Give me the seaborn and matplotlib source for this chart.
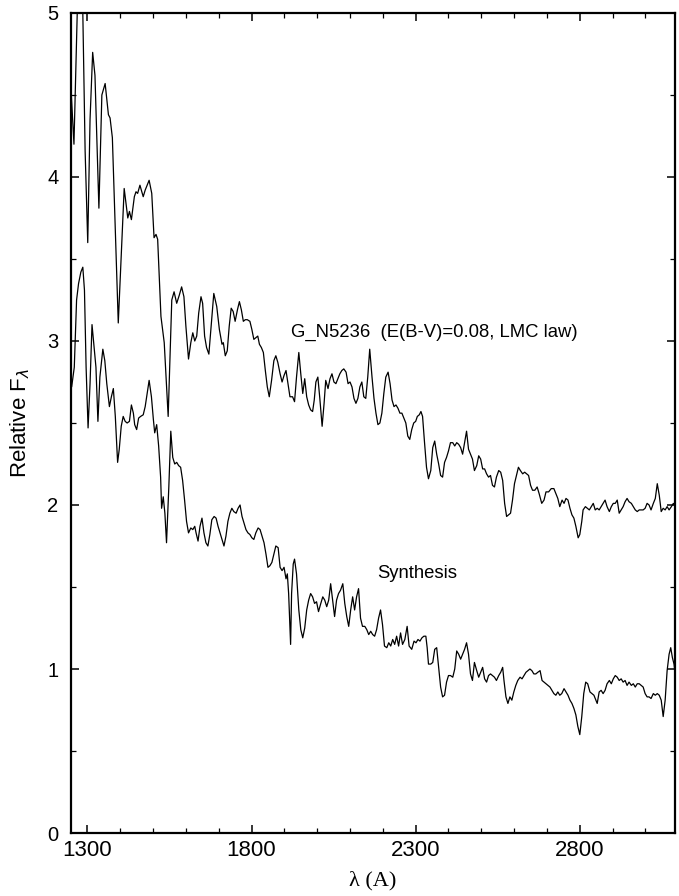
import numpy as np
import pandas as pd
import matplotlib
matplotlib.use("Agg")
import matplotlib.pyplot as plt
import seaborn as sns
from matplotlib.ticker import MultipleLocator

# ---------------- data ----------------
obs_wave = [1251, 1259, 1269, 1275, 1281, 1286, 1293, 1301, 1308, 1316, 1323, 1335, 1344, 1354,
            1364, 1369, 1376, 1394, 1412, 1423, 1428, 1434, 1443, 1448, 1453, 1460, 1470, 1476,
            1482, 1488, 1496, 1503, 1509, 1514, 1524, 1534, 1546, 1557, 1564, 1572, 1580, 1587,
            1594, 1600, 1608, 1615, 1621, 1627, 1633, 1639, 1646, 1651, 1657, 1663, 1670, 1677,
            1685, 1694, 1702, 1710, 1714, 1720, 1726, 1732, 1738, 1744, 1750, 1757, 1763, 1769,
            1775, 1781, 1787, 1795, 1801, 1807, 1813, 1819, 1824, 1830, 1836, 1842, 1848, 1854,
            1861, 1868, 1874, 1880, 1887, 1893, 1899, 1905, 1911, 1917, 1925, 1931, 1937, 1944,
            1950, 1956, 1962, 1968, 1974, 1980, 1986, 1991, 1996, 2002, 2008, 2015, 2021, 2026,
            2033, 2039, 2045, 2051, 2057, 2063, 2069, 2075, 2081, 2088, 2094, 2100, 2106, 2112,
            2118, 2124, 2130, 2136, 2142, 2148, 2154, 2160, 2167, 2173, 2179, 2185, 2191, 2197,
            2203, 2209, 2216, 2222, 2228, 2234, 2240, 2246, 2252, 2258, 2264, 2270, 2276, 2282,
            2288, 2294, 2300, 2305, 2311, 2316, 2321, 2327, 2333, 2339, 2346, 2352, 2358, 2364,
            2370, 2376, 2382, 2388, 2394, 2400, 2406, 2413, 2419, 2425, 2431, 2437, 2443, 2449,
            2455, 2461, 2467, 2473, 2479, 2486, 2492, 2498, 2504, 2510, 2516, 2522, 2528, 2534,
            2540, 2546, 2553, 2559, 2565, 2571, 2577, 2583, 2589, 2595, 2601, 2607, 2613, 2619,
            2626, 2632, 2638, 2644, 2650, 2656, 2663, 2670, 2676, 2684, 2691, 2697, 2705, 2713,
            2721, 2727, 2733, 2739, 2746, 2752, 2758, 2764, 2770, 2776, 2782, 2788, 2795, 2800,
            2806, 2810, 2817, 2823, 2829, 2835, 2841, 2847, 2853, 2859, 2865, 2871, 2877, 2883,
            2890, 2896, 2902, 2908, 2914, 2920, 2926, 2932, 2938, 2944, 2950, 2957, 2963, 2969,
            2975, 2981, 2987, 2993, 2999, 3005, 3011, 3017, 3024, 3030, 3036, 3042, 3048, 3054,
            3060, 3066, 3072, 3079, 3085, 3091]
obs_flux = [4.50, 4.20, 5.00, 5.30, 5.30, 5.00, 4.16, 3.60, 4.35, 4.76, 4.62, 3.81, 4.50, 4.57,
            4.38, 4.36, 4.24, 3.11, 3.93, 3.75, 3.79, 3.74, 3.88, 3.91, 3.90, 3.95, 3.88, 3.92,
            3.95, 3.98, 3.90, 3.63, 3.65, 3.62, 3.15, 2.99, 2.54, 3.25, 3.30, 3.23, 3.28, 3.33,
            3.27, 3.09, 2.89, 2.99, 3.05, 3.00, 3.03, 3.17, 3.27, 3.23, 3.03, 2.96, 2.92, 3.09,
            3.29, 3.21, 3.07, 2.98, 2.99, 2.91, 2.94, 3.09, 3.20, 3.18, 3.12, 3.19, 3.24, 3.19,
            3.12, 3.13, 3.13, 3.12, 3.07, 3.01, 3.02, 3.03, 2.98, 2.96, 2.93, 2.82, 2.72, 2.66,
            2.76, 2.88, 2.91, 2.87, 2.80, 2.75, 2.79, 2.82, 2.74, 2.66, 2.66, 2.63, 2.78, 2.93,
            2.80, 2.68, 2.77, 2.66, 2.61, 2.58, 2.57, 2.64, 2.75, 2.78, 2.65, 2.48, 2.62, 2.76,
            2.71, 2.77, 2.80, 2.75, 2.74, 2.77, 2.80, 2.82, 2.83, 2.81, 2.74, 2.75, 2.72, 2.65,
            2.62, 2.65, 2.72, 2.75, 2.66, 2.65, 2.78, 2.95, 2.78, 2.65, 2.56, 2.49, 2.50, 2.56,
            2.68, 2.78, 2.81, 2.74, 2.64, 2.60, 2.61, 2.59, 2.56, 2.56, 2.53, 2.50, 2.42, 2.40,
            2.46, 2.50, 2.51, 2.54, 2.55, 2.57, 2.54, 2.38, 2.23, 2.16, 2.21, 2.35, 2.39, 2.31,
            2.25, 2.18, 2.17, 2.26, 2.29, 2.33, 2.38, 2.38, 2.36, 2.38, 2.37, 2.35, 2.31, 2.38,
            2.45, 2.34, 2.31, 2.28, 2.21, 2.24, 2.30, 2.28, 2.22, 2.22, 2.19, 2.17, 2.18, 2.12,
            2.11, 2.17, 2.21, 2.20, 2.15, 2.01, 1.93, 1.94, 1.95, 2.03, 2.13, 2.18, 2.23, 2.21,
            2.19, 2.20, 2.19, 2.18, 2.12, 2.09, 2.09, 2.11, 2.07, 2.01, 2.03, 2.08, 2.08, 2.10,
            2.10, 2.07, 2.04, 1.99, 2.03, 2.01, 2.04, 2.03, 1.98, 1.94, 1.92, 1.87, 1.80, 1.82,
            1.90, 1.97, 1.99, 1.98, 1.97, 1.99, 2.01, 1.97, 1.98, 1.97, 1.99, 2.01, 2.03, 1.99,
            1.96, 1.99, 2.01, 2.01, 2.03, 1.95, 1.97, 1.99, 2.02, 2.04, 2.02, 2.01, 1.99, 1.97,
            1.96, 1.97, 1.97, 1.97, 1.98, 2.01, 2.00, 1.97, 2.01, 2.04, 2.13, 2.06, 1.96, 1.98,
            1.97, 1.99, 1.97, 1.99, 2.01, 1.99]

syn_wave = [1252, 1260, 1267, 1273, 1280, 1286, 1291, 1296, 1302, 1308, 1314, 1320, 1326, 1332,
            1338, 1347, 1353, 1359, 1367, 1373, 1379, 1385, 1392, 1397, 1403, 1409, 1415, 1421,
            1428, 1434, 1440, 1444, 1450, 1456, 1462, 1470, 1476, 1482, 1488, 1495, 1501, 1505,
            1511, 1517, 1523, 1526, 1531, 1536, 1541, 1548, 1554, 1560, 1566, 1572, 1578, 1584,
            1590, 1596, 1602, 1608, 1615, 1621, 1627, 1631, 1637, 1643, 1649, 1655, 1661, 1667,
            1673, 1679, 1686, 1692, 1698, 1704, 1710, 1716, 1722, 1728, 1734, 1740, 1746, 1753,
            1759, 1765, 1771, 1777, 1783, 1789, 1795, 1801, 1807, 1813, 1820, 1826, 1832, 1838,
            1844, 1850, 1856, 1862, 1868, 1874, 1881, 1887, 1893, 1899, 1905, 1909, 1913, 1919,
            1922, 1927, 1931, 1937, 1944, 1950, 1956, 1962, 1968, 1974, 1980, 1986, 1992, 1998,
            2004, 2011, 2017, 2023, 2029, 2035, 2041, 2047, 2053, 2059, 2065, 2071, 2078, 2084,
            2090, 2096, 2102, 2108, 2114, 2120, 2126, 2132, 2138, 2145, 2151, 2157, 2163, 2169,
            2175, 2181, 2187, 2193, 2199, 2205, 2212, 2218, 2224, 2230, 2236, 2242, 2248, 2254,
            2260, 2267, 2274, 2280, 2288, 2295, 2301, 2307, 2313, 2319, 2325, 2331, 2335, 2339,
            2346, 2352, 2358, 2364, 2370, 2376, 2382, 2388, 2394, 2400, 2406, 2413, 2419, 2425,
            2431, 2437, 2443, 2449, 2455, 2461, 2467, 2473, 2479, 2486, 2492, 2498, 2504, 2510,
            2516, 2522, 2528, 2534, 2540, 2546, 2553, 2559, 2565, 2569, 2575, 2581, 2587, 2593,
            2599, 2605, 2611, 2618, 2624, 2630, 2636, 2642, 2648, 2654, 2660, 2666, 2672, 2679,
            2685, 2691, 2697, 2703, 2709, 2715, 2721, 2727, 2733, 2739, 2745, 2752, 2758, 2764,
            2770, 2776, 2782, 2788, 2794, 2800, 2806, 2812, 2818, 2824, 2831, 2837, 2843, 2849,
            2853, 2859, 2865, 2871, 2877, 2883, 2890, 2896, 2902, 2908, 2914, 2920, 2926, 2932,
            2938, 2944, 2950, 2957, 2963, 2969, 2975, 2981, 2987, 2993, 2999, 3005, 3011, 3017,
            3024, 3030, 3036, 3042, 3048, 3054, 3060, 3066, 3072, 3077, 3082, 3087, 3094]
syn_flux = [2.72, 2.84, 3.25, 3.35, 3.42, 3.45, 3.31, 2.84, 2.47, 2.74, 3.10, 2.97, 2.84, 2.51,
            2.78, 2.95, 2.88, 2.74, 2.60, 2.66, 2.71, 2.54, 2.26, 2.34, 2.48, 2.54, 2.51, 2.50,
            2.51, 2.61, 2.56, 2.49, 2.46, 2.53, 2.54, 2.55, 2.60, 2.68, 2.76, 2.66, 2.52, 2.44,
            2.49, 2.36, 2.17, 1.98, 2.05, 1.95, 1.77, 2.11, 2.45, 2.29, 2.25, 2.26, 2.24, 2.23,
            2.15, 2.03, 1.90, 1.83, 1.86, 1.85, 1.87, 1.83, 1.78, 1.87, 1.92, 1.83, 1.77, 1.75,
            1.82, 1.91, 1.93, 1.92, 1.87, 1.83, 1.79, 1.75, 1.81, 1.90, 1.95, 1.98, 1.96, 1.95,
            1.98, 2.00, 1.93, 1.89, 1.85, 1.83, 1.82, 1.80, 1.79, 1.83, 1.86, 1.85, 1.81, 1.77,
            1.70, 1.62, 1.63, 1.65, 1.70, 1.75, 1.74, 1.62, 1.60, 1.62, 1.55, 1.58, 1.46, 1.15,
            1.46, 1.64, 1.67, 1.58, 1.36, 1.24, 1.19, 1.25, 1.36, 1.42, 1.46, 1.44, 1.40, 1.41,
            1.35, 1.40, 1.44, 1.42, 1.38, 1.42, 1.52, 1.42, 1.32, 1.42, 1.46, 1.48, 1.52, 1.40,
            1.32, 1.26, 1.36, 1.44, 1.36, 1.44, 1.49, 1.31, 1.26, 1.26, 1.24, 1.21, 1.23, 1.21,
            1.20, 1.24, 1.31, 1.36, 1.27, 1.14, 1.13, 1.16, 1.14, 1.18, 1.15, 1.20, 1.14, 1.22,
            1.15, 1.18, 1.26, 1.14, 1.12, 1.17, 1.16, 1.18, 1.17, 1.19, 1.20, 1.20, 1.13, 1.03,
            1.03, 1.04, 1.12, 1.13, 1.01, 0.89, 0.83, 0.84, 0.92, 0.96, 0.96, 0.95, 1.00, 1.11,
            1.09, 1.06, 1.09, 1.12, 1.16, 1.09, 0.97, 0.93, 1.04, 0.99, 0.95, 0.98, 1.01, 0.94,
            0.92, 0.96, 0.97, 0.96, 0.95, 0.93, 0.96, 0.98, 1.01, 0.93, 0.83, 0.79, 0.83, 0.81,
            0.86, 0.90, 0.93, 0.95, 0.94, 0.96, 0.98, 0.99, 1.00, 0.99, 0.97, 0.97, 0.98, 0.99,
            0.93, 0.92, 0.91, 0.90, 0.89, 0.87, 0.85, 0.84, 0.86, 0.84, 0.85, 0.88, 0.86, 0.84,
            0.81, 0.79, 0.76, 0.72, 0.65, 0.60, 0.71, 0.85, 0.92, 0.91, 0.86, 0.85, 0.84, 0.81,
            0.79, 0.86, 0.87, 0.85, 0.87, 0.91, 0.93, 0.91, 0.94, 0.96, 0.95, 0.93, 0.94, 0.92,
            0.93, 0.90, 0.92, 0.90, 0.91, 0.89, 0.91, 0.91, 0.90, 0.89, 0.85, 0.83, 0.83, 0.82,
            0.85, 0.84, 0.85, 0.84, 0.81, 0.71, 0.81, 0.99, 1.09, 1.13, 1.07, 1.03, 0.91]

x_major_ticks = [1300, 1800, 2300, 2800]
y_major_ticks = [0, 1, 2, 3, 4, 5]
label_obs = "G_N5236  (E(B-V)=0.08, LMC law)"
label_syn = "Synthesis"

# ---------------- style ----------------
sns.set_style("ticks")
plt.rcParams["font.family"] = ["Liberation Sans", "DejaVu Sans"]
plt.rcParams["mathtext.fontset"] = "dejavusans"
plt.rcParams["text.color"] = "black"
plt.rcParams["axes.labelcolor"] = "black"
plt.rcParams["xtick.color"] = "black"
plt.rcParams["ytick.color"] = "black"

fig = plt.figure(figsize=(6.79, 8.96), dpi=100)
ax = fig.add_axes([71 / 679, 63 / 896, 604 / 679, 820 / 896])

df_obs = pd.DataFrame({"wave": obs_wave, "flux": obs_flux})
df_syn = pd.DataFrame({"wave": syn_wave, "flux": syn_flux})

sns.lineplot(data=df_obs, x="wave", y="flux", color="black", linewidth=0.9,
             estimator=None, sort=False, ax=ax)
sns.lineplot(data=df_syn, x="wave", y="flux", color="black", linewidth=0.9,
             estimator=None, sort=False, ax=ax)

ax.set_xlim(1250, 3090)
ax.set_ylim(0, 5)
ax.set_xticks(x_major_ticks)
ax.set_yticks(y_major_ticks)
ax.xaxis.set_minor_locator(MultipleLocator(100))
ax.yaxis.set_minor_locator(MultipleLocator(0.5))

for side in ["left", "right", "top", "bottom"]:
    ax.spines[side].set_visible(True)
    ax.spines[side].set_linewidth(1.6)
    ax.spines[side].set_color("black")

ax.tick_params(which="both", direction="in", top=True, right=True, colors="black",
               labelcolor="black")
ax.tick_params(which="major", length=6, width=1.1)
ax.tick_params(which="minor", length=3.3, width=0.9)
ax.tick_params(axis="x", which="major", labelsize=16, pad=5)
ax.tick_params(axis="y", which="major", labelsize=14.5, pad=9)

ax.set_xlabel("λ (A)", fontsize=16, family=["Liberation Serif", "DejaVu Serif"],
              labelpad=7, color="black")
ax.set_ylabel(r"Relative F$_{\lambda}$", fontsize=16, labelpad=11, color="black")

ax.text(1920, 3.024, label_obs, fontsize=13.3, ha="left", va="baseline", color="black")
ax.text(2183, 1.555, label_syn, fontsize=13.3, ha="left", va="baseline", color="black")

fig.savefig("out.png", dpi=100)
